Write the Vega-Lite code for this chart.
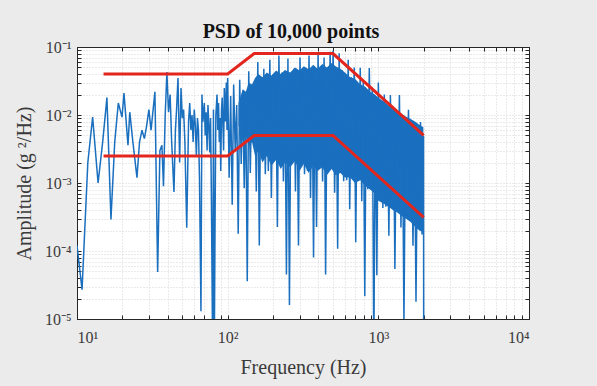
{
  "$schema": "https://vega.github.io/schema/vega-lite/v6.json",
  "width": 452,
  "height": 272,
  "autosize": {"type": "none"},
  "padding": {"left": 77, "top": 47, "right": 68, "bottom": 67},
  "background": "#ebebeb",
  "title": {"text": "PSD of 10,000 points", "font": "Liberation Serif", "fontSize": 20, "fontWeight": "bold", "color": "#111111", "offset": -3, "dx": -12},
  "config": {
    "view": {"stroke": "#262626", "strokeWidth": 1, "fill": "white"},
    "axis": {"labelFont": "Liberation Serif", "titleFont": "Liberation Serif", "labelColor": "#3a3a3a", "titleColor": "#3a3a3a", "labelFontSize": 16, "titleFontSize": 20, "titleFontWeight": "normal", "domainColor": "#262626", "tickColor": "#262626", "gridColor": "#d4d4d4", "gridDash": [1, 2], "gridOpacity": 1}
  },
  "datasets": {
    "psd": [
      {"f": 10, "a": 0.00012}, {"f": 10.8, "a": 0.000027}, {"f": 11.8, "a": 0.002}, {"f": 12.7, "a": 0.0093},
      {"f": 13.8, "a": 0.001}, {"f": 14.8, "a": 0.004}, {"f": 15.8, "a": 0.018}, {"f": 16.8, "a": 0.00029},
      {"f": 17.8, "a": 0.004}, {"f": 18.8, "a": 0.015}, {"f": 19.9, "a": 0.0093}, {"f": 20.5, "a": 0.021},
      {"f": 21.8, "a": 0.0036}, {"f": 22.4, "a": 0.011}, {"f": 23.5, "a": 0.004}, {"f": 25, "a": 0.0012},
      {"f": 26, "a": 0.004}, {"f": 27, "a": 0.006}, {"f": 28, "a": 0.0045}, {"f": 29, "a": 0.007},
      {"f": 30, "a": 0.012}, {"f": 31, "a": 0.006}, {"f": 32.9, "a": 0.022}, {"f": 34.3, "a": 0.000049},
      {"f": 35.5, "a": 0.003}, {"f": 36.6, "a": 0.0036}, {"f": 37.5, "a": 0.0009}, {"f": 38.5, "a": 0.01},
      {"f": 39.5, "a": 0.043}, {"f": 40.5, "a": 0.011}, {"f": 41.5, "a": 0.02}, {"f": 42.5, "a": 0.004},
      {"f": 44, "a": 0.00074}, {"f": 45, "a": 0.006}, {"f": 45.8, "a": 0.012}, {"f": 46.8, "a": 0.035},
      {"f": 48, "a": 0.002}, {"f": 49, "a": 0.025}, {"f": 50, "a": 0.009}, {"f": 51, "a": 0.012},
      {"f": 52, "a": 0.004}, {"f": 53.5, "a": 0.00022}, {"f": 55, "a": 0.008}, {"f": 56, "a": 0.015},
      {"f": 57, "a": 0.006}, {"f": 58, "a": 0.01}, {"f": 59, "a": 0.004}, {"f": 60, "a": 0.012},
      {"f": 61, "a": 0.007}, {"f": 62, "a": 0.0025}, {"f": 63, "a": 0.009}, {"f": 64, "a": 0.006},
      {"f": 65, "a": 0.0012}, {"f": 66.5, "a": 0.000013}, {"f": 67.5, "a": 0.02}, {"f": 68.5, "a": 0.008},
      {"f": 70, "a": 0.015}, {"f": 71, "a": 0.005}, {"f": 72, "a": 0.011}, {"f": 73, "a": 0.003},
      {"f": 74, "a": 0.014}, {"f": 75, "a": 0.007}, {"f": 76, "a": 0.0028}, {"f": 77, "a": 0.009},
      {"f": 78, "a": 0.0006}, {"f": 79.5, "a": 0.000003}, {"f": 80.5, "a": 0.012}, {"f": 81.5, "a": 0.000003},
      {"f": 82.5, "a": 0.0003}, {"f": 83.5, "a": 0.01}, {"f": 85, "a": 0.02}, {"f": 86, "a": 0.006},
      {"f": 87, "a": 0.015}, {"f": 88, "a": 0.004}, {"f": 89, "a": 0.009}, {"f": 90, "a": 0.0015},
      {"f": 91, "a": 0.012}, {"f": 92, "a": 0.018}, {"f": 93, "a": 0.007}, {"f": 94, "a": 0.003},
      {"f": 95, "a": 0.025}, {"f": 96.5, "a": 0.008}, {"f": 98, "a": 0.03}, {"f": 99, "a": 0.006},
      {"f": 100, "a": 0.035}, {"f": 102.3, "a": 0.0012}, {"f": 104.7, "a": 0.019}, {"f": 107.2, "a": 0.00048},
      {"f": 109.6, "a": 0.028}, {"f": 112.2, "a": 0.003}, {"f": 114.8, "a": 0.014}, {"f": 117.5, "a": 0.00018},
      {"f": 120.2, "a": 0.033}, {"f": 123, "a": 0.0019}, {"f": 125.9, "a": 0.023}, {"f": 128.8, "a": 0.00084},
      {"f": 131.8, "a": 0.0175}, {"f": 134.9, "a": 0.000036}, {"f": 138, "a": 0.044}, {"f": 141.3, "a": 0.0014},
      {"f": 144.5, "a": 0.0245}, {"f": 147.9, "a": 0.0042}, {"f": 151.4, "a": 0.027}, {"f": 154.9, "a": 0.00075},
      {"f": 158.5, "a": 0.06}, {"f": 162.2, "a": 0.00012}, {"f": 166, "a": 0.033}, {"f": 169.8, "a": 0.003},
      {"f": 173.8, "a": 0.048}, {"f": 177.8, "a": 0.00135}, {"f": 182, "a": 0.024}, {"f": 186.2, "a": 0.0015},
      {"f": 190.5, "a": 0.065}, {"f": 195, "a": 0.0006}, {"f": 199.5, "a": 0.039}, {"f": 204.2, "a": 0.00375},
      {"f": 208.9, "a": 0.03}, {"f": 213.8, "a": 0.000225}, {"f": 218.8, "a": 0.075}, {"f": 223.9, "a": 0.0024},
      {"f": 229.1, "a": 0.042}, {"f": 234.4, "a": 0.00105}, {"f": 239.9, "a": 0.027}, {"f": 245.5, "a": 0.000045},
      {"f": 251.2, "a": 0.068}, {"f": 257, "a": 0.000016}, {"f": 263, "a": 0.033}, {"f": 269.2, "a": 0.00525},
      {"f": 275.4, "a": 0.048}, {"f": 281.8, "a": 0.00075}, {"f": 288.4, "a": 0.024}, {"f": 295.1, "a": 0.00012},
      {"f": 302, "a": 0.07}, {"f": 309, "a": 0.003}, {"f": 316.2, "a": 0.039}, {"f": 323.6, "a": 0.00135},
      {"f": 331.1, "a": 0.03}, {"f": 338.8, "a": 0.0015}, {"f": 346.7, "a": 0.075}, {"f": 354.8, "a": 0.0006},
      {"f": 363.1, "a": 0.042}, {"f": 371.5, "a": 0.00008}, {"f": 380.2, "a": 0.027}, {"f": 389, "a": 0.000225},
      {"f": 398.1, "a": 0.078}, {"f": 407.4, "a": 0.0024}, {"f": 416.9, "a": 0.033}, {"f": 426.6, "a": 0.00105},
      {"f": 436.5, "a": 0.07}, {"f": 446.7, "a": 0.000045}, {"f": 457.1, "a": 0.024}, {"f": 467.7, "a": 0.0018},
      {"f": 478.6, "a": 0.085}, {"f": 489.8, "a": 0.00525}, {"f": 501.2, "a": 0.088}, {"f": 512.9, "a": 0.00072},
      {"f": 524.8, "a": 0.0325}, {"f": 537, "a": 0.000108}, {"f": 549.5, "a": 0.081}, {"f": 562.3, "a": 0.0025},
      {"f": 575.4, "a": 0.0455}, {"f": 588.8, "a": 0.00106}, {"f": 602.6, "a": 0.029}, {"f": 616.6, "a": 0.0011},
      {"f": 631, "a": 0.065}, {"f": 645.7, "a": 0.00041}, {"f": 660.7, "a": 0.0358}, {"f": 676.1, "a": 0.0024},
      {"f": 691.8, "a": 0.05}, {"f": 707.9, "a": 0.000134}, {"f": 724.4, "a": 0.0229}, {"f": 741.3, "a": 0.00133},
      {"f": 758.6, "a": 0.0495}, {"f": 776.2, "a": 0.00054}, {"f": 794.3, "a": 0.031}, {"f": 812.8, "a": 0.0000217},
      {"f": 831.8, "a": 0.0217}, {"f": 851.1, "a": 0.00081}, {"f": 871, "a": 0.049}, {"f": 891.3, "a": 0.0022},
      {"f": 912, "a": 0.0253}, {"f": 933.3, "a": 0.000003}, {"f": 955, "a": 0.0148}, {"f": 977.2, "a": 0.000044},
      {"f": 1000, "a": 0.03}, {"f": 1023, "a": 0.00103}, {"f": 1047, "a": 0.0151}, {"f": 1072, "a": 0.00043},
      {"f": 1096, "a": 0.02}, {"f": 1122, "a": 0.000446}, {"f": 1148, "a": 0.0091}, {"f": 1175, "a": 0.000167},
      {"f": 1202, "a": 0.0197}, {"f": 1230, "a": 0.00097}, {"f": 1259, "a": 0.0123}, {"f": 1288, "a": 0.0000544},
      {"f": 1318, "a": 0.0086}, {"f": 1349, "a": 0.00054}, {"f": 1380, "a": 0.0197}, {"f": 1413, "a": 0.000221},
      {"f": 1445, "a": 0.01}, {"f": 1479, "a": 0.0000088}, {"f": 1514, "a": 0.0059}, {"f": 1549, "a": 0.00033},
      {"f": 1585, "a": 0.0119}, {"f": 1622, "a": 0.0009}, {"f": 1660, "a": 0.006}, {"f": 1698, "a": 0.00012},
      {"f": 1738, "a": 0.0079}, {"f": 1778, "a": 0.000018}, {"f": 1820, "a": 0.0036}, {"f": 1862, "a": 0.00042},
      {"f": 1905, "a": 0.0079}, {"f": 1950, "a": 0.000175}, {"f": 1995, "a": 0.0049}, {"f": 2000, "a": 0.000004}
    ],
    "band": [
      {"f": 118, "lo": 0.007, "hi": 0.015}, {"f": 126, "lo": 0.004, "hi": 0.024}, {"f": 132, "lo": 0.005, "hi": 0.022},
      {"f": 138, "lo": 0.0035, "hi": 0.03}, {"f": 145, "lo": 0.004, "hi": 0.028}, {"f": 152, "lo": 0.0025, "hi": 0.035},
      {"f": 160, "lo": 0.003, "hi": 0.04}, {"f": 170, "lo": 0.002, "hi": 0.036}, {"f": 182, "lo": 0.0025, "hi": 0.042},
      {"f": 195, "lo": 0.0018, "hi": 0.038}, {"f": 210, "lo": 0.0022, "hi": 0.045}, {"f": 225, "lo": 0.0016, "hi": 0.04},
      {"f": 240, "lo": 0.002, "hi": 0.046}, {"f": 260, "lo": 0.0017, "hi": 0.042}, {"f": 280, "lo": 0.0021, "hi": 0.05},
      {"f": 300, "lo": 0.0015, "hi": 0.045}, {"f": 320, "lo": 0.0019, "hi": 0.052}, {"f": 345, "lo": 0.0014, "hi": 0.047},
      {"f": 370, "lo": 0.0018, "hi": 0.055}, {"f": 395, "lo": 0.0015, "hi": 0.048}, {"f": 425, "lo": 0.0017, "hi": 0.056},
      {"f": 455, "lo": 0.0013, "hi": 0.05}, {"f": 490, "lo": 0.0016, "hi": 0.058}, {"f": 520, "lo": 0.0013, "hi": 0.052},
      {"f": 560, "lo": 0.0014, "hi": 0.048}, {"f": 600, "lo": 0.0012, "hi": 0.042}, {"f": 650, "lo": 0.0012, "hi": 0.036},
      {"f": 700, "lo": 0.001, "hi": 0.034}, {"f": 760, "lo": 0.0011, "hi": 0.028}, {"f": 820, "lo": 0.0009, "hi": 0.026},
      {"f": 880, "lo": 0.0008, "hi": 0.022}, {"f": 950, "lo": 0.0007, "hi": 0.02}, {"f": 1000, "lo": 0.00055, "hi": 0.018},
      {"f": 1080, "lo": 0.0005, "hi": 0.016}, {"f": 1160, "lo": 0.00045, "hi": 0.014}, {"f": 1250, "lo": 0.0004, "hi": 0.0125},
      {"f": 1330, "lo": 0.00037, "hi": 0.0115}, {"f": 1420, "lo": 0.00033, "hi": 0.0105}, {"f": 1520, "lo": 0.0003, "hi": 0.0095},
      {"f": 1630, "lo": 0.00027, "hi": 0.0088}, {"f": 1750, "lo": 0.00023, "hi": 0.008}, {"f": 1870, "lo": 0.0002, "hi": 0.0072},
      {"f": 1990, "lo": 0.00019, "hi": 0.0066}
    ],
    "env": [
      {"f": 15, "a": 0.04, "env": "upper"}, {"f": 100, "a": 0.04, "env": "upper"}, {"f": 150, "a": 0.08, "env": "upper"}, {"f": 500, "a": 0.08, "env": "upper"}, {"f": 2000, "a": 0.005, "env": "upper"},
      {"f": 15, "a": 0.0025, "env": "lower"}, {"f": 100, "a": 0.0025, "env": "lower"}, {"f": 150, "a": 0.005, "env": "lower"}, {"f": 500, "a": 0.005, "env": "lower"}, {"f": 2000, "a": 0.0003125, "env": "lower"}
    ]
  },
  "layer": [
    {
      "data": {"name": "band"},
      "mark": {"type": "area", "color": "#1a6fbf", "opacity": 1, "clip": true},
      "encoding": {
        "x": {"field": "f", "type": "quantitative", "scale": {"type": "log", "domain": [10, 10000]},
          "axis": {"orient": "bottom", "title": "Frequency (Hz)", "titlePadding": 12, "labelPadding": 14, "tickSize": -4,
            "values": [10,20,30,40,50,60,70,80,90,100,200,300,400,500,600,700,800,900,1000,2000,3000,4000,5000,6000,7000,8000,9000,10000],
            "labelExpr": "datum.value == 10 ? '10¹' : datum.value == 100 ? '10²' : datum.value == 1000 ? '10³' : datum.value == 10000 ? '10⁴' : ''"}},
        "y": {"field": "lo", "type": "quantitative", "scale": {"type": "log", "domain": [0.00001, 0.1]},
          "axis": {"orient": "left", "title": "Amplitude (g ²/Hz)", "titlePadding": 10, "labelPadding": 10, "tickSize": -4,
            "values": [0.00001,0.00002,0.00003,0.00004,0.00005,0.00006,0.00007,0.00008,0.00009,0.0001,0.0002,0.0003,0.0004,0.0005,0.0006,0.0007,0.0008,0.0009,0.001,0.002,0.003,0.004,0.005,0.006,0.007,0.008,0.009,0.01,0.02,0.03,0.04,0.05,0.06,0.07,0.08,0.09,0.1],
            "labelExpr": "datum.value == 0.1 ? '10⁻¹' : datum.value == 0.01 ? '10⁻²' : datum.value == 0.001 ? '10⁻³' : datum.value == 0.0001 ? '10⁻⁴' : datum.value == 0.00001 ? '10⁻⁵' : ''"}},
        "y2": {"field": "hi"}
      }
    },
    {
      "data": {"name": "psd"},
      "mark": {"type": "line", "color": "#1a6fbf", "strokeWidth": 1.5, "clip": true},
      "encoding": {
        "x": {"field": "f", "type": "quantitative", "scale": {"type": "log", "domain": [10, 10000]}, "axis": null},
        "y": {"field": "a", "type": "quantitative", "scale": {"type": "log", "domain": [0.00001, 0.1]}, "axis": null}
      }
    },
    {
      "data": {"name": "env"},
      "mark": {"type": "line", "color": "#e3261d", "strokeWidth": 3},
      "encoding": {
        "x": {"field": "f", "type": "quantitative", "scale": {"type": "log", "domain": [10, 10000]},
          "axis": {"orient": "top", "title": null, "labels": false, "grid": false, "tickSize": -4,
            "values": [10,20,30,40,50,60,70,80,90,100,200,300,400,500,600,700,800,900,1000,2000,3000,4000,5000,6000,7000,8000,9000,10000]}},
        "y": {"field": "a", "type": "quantitative", "scale": {"type": "log", "domain": [0.00001, 0.1]},
          "axis": {"orient": "right", "title": null, "labels": false, "grid": false, "tickSize": -4,
            "values": [0.00001,0.00002,0.00003,0.00004,0.00005,0.00006,0.00007,0.00008,0.00009,0.0001,0.0002,0.0003,0.0004,0.0005,0.0006,0.0007,0.0008,0.0009,0.001,0.002,0.003,0.004,0.005,0.006,0.007,0.008,0.009,0.01,0.02,0.03,0.04,0.05,0.06,0.07,0.08,0.09,0.1]}},
        "detail": {"field": "env"}
      }
    }
  ],
  "resolve": {"axis": {"x": "independent", "y": "independent"}}
}
